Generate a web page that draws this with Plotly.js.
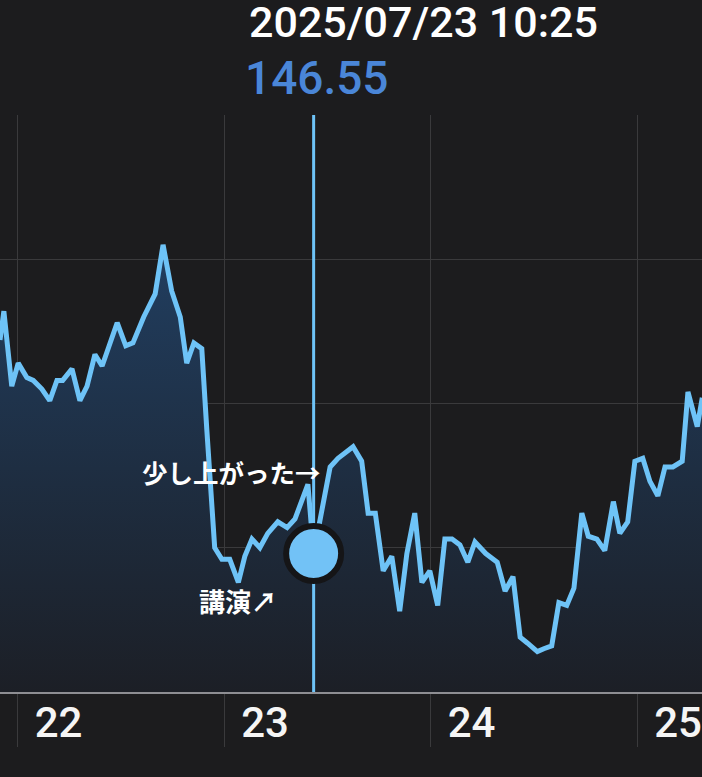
<!DOCTYPE html>
<html><head><meta charset="utf-8">
<script src="https://cdn.plot.ly/plotly-3.0.1.min.js"></script>
<style>html,body{margin:0;padding:0;background:#1c1c1e;}#chart{width:702px;height:777px;}</style>
</head><body><div id="chart"></div>
<script>
const times = [
 '2025-07-21 21:58','2025-07-21 22:25','2025-07-21 23:20','2025-07-22 00:05','2025-07-22 01:05','2025-07-22 01:50',
 '2025-07-22 02:50','2025-07-22 03:45','2025-07-22 04:35','2025-07-22 05:15','2025-07-22 06:20','2025-07-22 07:15',
 '2025-07-22 08:05','2025-07-22 09:00','2025-07-22 09:50','2025-07-22 10:45','2025-07-22 11:35','2025-07-22 12:35',
 '2025-07-22 13:25','2025-07-22 14:40','2025-07-22 16:00','2025-07-22 16:55','2025-07-22 17:55','2025-07-22 18:55',
 '2025-07-22 19:40','2025-07-22 20:30','2025-07-22 21:25','2025-07-22 22:00','2025-07-22 22:55','2025-07-22 23:45',
 '2025-07-23 00:40','2025-07-23 01:40','2025-07-23 02:25','2025-07-23 03:15','2025-07-23 04:10','2025-07-23 05:05',
 '2025-07-23 06:15','2025-07-23 07:20','2025-07-23 08:15','2025-07-23 09:45','2025-07-23 10:25','2025-07-23 12:20',
 '2025-07-23 13:15','2025-07-23 15:00','2025-07-23 16:00','2025-07-23 16:45','2025-07-23 17:35','2025-07-23 18:30',
 '2025-07-23 19:30','2025-07-23 20:25','2025-07-23 21:15','2025-07-23 22:10','2025-07-23 23:00','2025-07-23 23:55',
 '2025-07-24 00:50','2025-07-24 01:40','2025-07-24 02:30','2025-07-24 03:25','2025-07-24 04:20','2025-07-24 05:10',
 '2025-07-24 06:25','2025-07-24 07:45','2025-07-24 08:40','2025-07-24 09:35','2025-07-24 10:25','2025-07-24 11:15',
 '2025-07-24 12:25','2025-07-24 13:10','2025-07-24 14:05','2025-07-24 14:55','2025-07-24 15:50','2025-07-24 16:40',
 '2025-07-24 17:35','2025-07-24 18:20','2025-07-24 19:20','2025-07-24 20:15','2025-07-24 21:15','2025-07-24 22:00',
 '2025-07-24 22:55','2025-07-24 23:45','2025-07-25 00:40','2025-07-25 01:30','2025-07-25 02:25','2025-07-25 03:15',
 '2025-07-25 04:10','2025-07-25 05:15','2025-07-25 05:55','2025-07-25 07:00','2025-07-25 07:35'
];
const prices = [
 147.29,147.39,147.13,147.21,147.16,147.15,
 147.12,147.08,147.15,147.15,147.19,147.08,
 147.13,147.24,147.20,147.28,147.35,147.27,
 147.28,147.37,147.45,147.62,147.46,147.37,
 147.21,147.28,147.26,146.98,146.57,146.53,
 146.53,146.45,146.54,146.60,146.57,146.62,
 146.66,146.64,146.67,146.79,146.55,146.85,
 146.88,146.92,146.87,146.69,146.69,146.49,
 146.54,146.35,146.55,146.69,146.45,146.49,
 146.37,146.60,146.60,146.58,146.52,146.59,
 146.55,146.52,146.42,146.47,146.26,146.24,
 146.21,146.22,146.23,146.38,146.37,146.43,
 146.69,146.61,146.60,146.56,146.73,146.62,
 146.66,146.87,146.88,146.80,146.75,146.85,
 146.85,146.87,147.11,146.99,147.09
];
const tickDays = ['2025-07-22','2025-07-23','2025-07-24','2025-07-25'];
const tickLabels = ['22','23','24','25'];
const headerTime = '2025/07/23 10:25';
const selectedTime = '2025-07-23 10:25';
const noteUp = '少し上がった→';
const noteTalk = '講演↗';
const xRange = ['2025-07-21 21:58','2025-07-25 07:33'];
const yRange = [146.07, 148.07];

const selIdx = times.indexOf(selectedTime);
const selValue = prices[selIdx];

const lineColor = '#6ec3f7';
const traces = [
 {x: times, y: prices, type:'scatter', mode:'lines', fill:'tozeroy',
  line:{color:lineColor, width:5},
  fillgradient:{type:'vertical', start:yRange[0], stop:Math.max(...prices),
    colorscale:[[0,'#1c1f26'],[0.5,'#1e2e42'],[1,'#213e60']]},
  hoverinfo:'skip'},
 {x:[selectedTime, selectedTime], y:yRange, type:'scatter', mode:'lines',
  line:{color:lineColor, width:3}, hoverinfo:'skip'},
 {x:[selectedTime], y:[selValue], type:'scatter', mode:'markers',
  marker:{size:55, color:'#72c2f6', line:{color:'#151517', width:6}}, hoverinfo:'skip'}
];
const layout = {
 width:702, height:777,
 margin:{l:0, r:0, t:115, b:85, pad:0},
 paper_bgcolor:'#1c1c1e', plot_bgcolor:'#1c1c1e',
 showlegend:false,
 xaxis:{type:'date', range:xRange, tickmode:'array', tickvals:tickDays, ticktext:tickLabels,
   showgrid:true, gridcolor:'#3a3a3c', gridwidth:1,
   ticks:'outside', ticklen:53, tickcolor:'#3a3a3c', tickwidth:1,
   showline:true, linecolor:'#8e8e93', linewidth:2, zeroline:false,
   tickfont:{family:'Roboto', size:42, color:'#f5f5f5', weight:500},
   ticklabelshift:41, ticklabelstandoff:-60, fixedrange:true},
 yaxis:{range:yRange, tick0:yRange[0], dtick:0.5, showticklabels:false,
   showgrid:true, gridcolor:'#3a3a3c', gridwidth:1, zeroline:false, ticks:'', fixedrange:true},
 annotations:[
  {text:headerTime, xref:'paper', yref:'paper', x:247/702, y:1.161, xanchor:'left', yanchor:'middle',
   showarrow:false, font:{family:'Roboto', size:43, color:'#ffffff', weight:500}},
  {text:selValue.toFixed(2), xref:'paper', yref:'paper', x:243/702, y:1.064, xanchor:'left', yanchor:'middle',
   showarrow:false, font:{family:'Roboto', size:46, color:'#4a86d8', weight:500}},
  {text:noteUp, xref:'paper', yref:'paper', x:323/702, y:0.383, xanchor:'right', yanchor:'middle',
   showarrow:false, font:{family:'Noto Sans CJK JP', size:25.5, color:'#ffffff', weight:700}},
  {text:noteTalk, xref:'paper', yref:'paper', x:279/702, y:0.159, xanchor:'right', yanchor:'middle',
   showarrow:false, font:{family:'Noto Sans CJK JP', size:26, color:'#ffffff', weight:700}}
 ]
};
Plotly.newPlot('chart', traces, layout, {displayModeBar:false, staticPlot:true});
</script>
</body></html>
